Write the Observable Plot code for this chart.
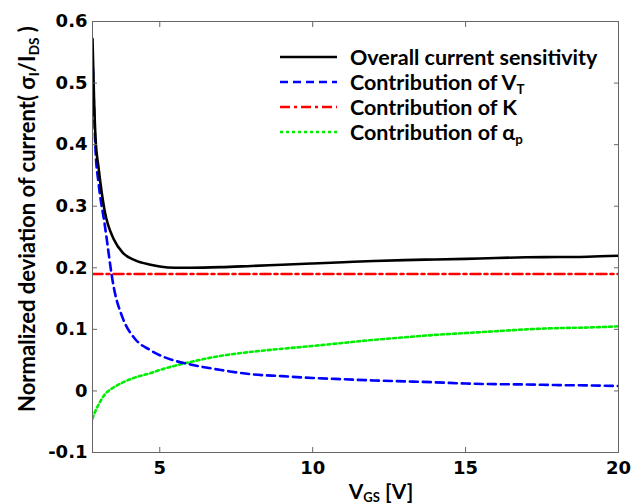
<!DOCTYPE html>
<html>
<head>
<meta charset="utf-8">
<script src="https://cdn.jsdelivr.net/npm/d3@7"></script>
<script src="https://cdn.jsdelivr.net/npm/@observablehq/plot@0.6"></script>
<style>
  html, body { margin: 0; padding: 0; background: #fff; }
  #wrap { position: relative; width: 632px; height: 504px; overflow: hidden; }
  .lbl { position: absolute; font-family: Lato, "Open Sans", sans-serif; font-weight: bold; color: #000; white-space: nowrap; line-height: 1; }
  .lbl sub { font-size: 0.62em; vertical-align: -0.3em; line-height: 0; }
  #legend { position: absolute; left: 280px; top: 44px; font-family: Lato, "Open Sans", sans-serif; font-weight: bold; font-size: 21.5px; }
  #legend .row { display: flex; align-items: center; height: 25px; white-space: nowrap; }
  #legend svg { width: 57px; height: 10px; margin-right: 13px; flex: none; }
  #legend sub { font-size: 0.62em; vertical-align: -0.3em; line-height: 0; }
</style>
</head>
<body>
<div id="wrap">
  <div id="chart"></div>
  <div class="lbl" id="ylabel" style="left:27px; top:219px; font-size:22px; transform:translate(-50%,-50%) rotate(-90deg);">Normalized deviation of current( σ<sub>I</sub>/I<sub>DS</sub> )</div>
  <div class="lbl" id="xlabel" style="left:381px; top:490px; font-size:21px; transform:translate(-50%,-50%);">V<sub>GS</sub> [V]</div>
  <div id="legend"></div>
</div>
<script>
// Gate-source voltage (V)
const vgs = [2.8, 2.85, 2.9, 3.0, 3.2, 3.5, 3.8, 4.2, 4.7, 5, 5.5, 6, 7, 8, 9, 10, 11, 12, 13, 14, 15, 16, 17, 18, 19, 20];
// Overall current sensitivity
const overall = [0.572, 0.475, 0.41, 0.362, 0.292, 0.246, 0.224, 0.212, 0.205, 0.202, 0.2, 0.2, 0.201, 0.203, 0.205, 0.207, 0.209, 0.211, 0.2125, 0.2135, 0.2145, 0.216, 0.217, 0.2175, 0.218, 0.2195];
// Contribution of V_T
const contribVT = [0.545, 0.46, 0.39, 0.337, 0.27, 0.167, 0.117, 0.084, 0.066, 0.058, 0.049, 0.043, 0.034, 0.027, 0.024, 0.021, 0.019, 0.017, 0.0155, 0.014, 0.012, 0.011, 0.0105, 0.0095, 0.009, 0.008];
// Contribution of K
const contribK = [0.19, 0.19, 0.19, 0.19, 0.19, 0.19, 0.19, 0.19, 0.19, 0.19, 0.19, 0.19, 0.19, 0.19, 0.19, 0.19, 0.19, 0.19, 0.19, 0.19, 0.19, 0.19, 0.19, 0.19, 0.19, 0.19];
// Contribution of alpha_p
const contribAlpha = [-0.045, -0.038, -0.032, -0.022, -0.006, 0.006, 0.014, 0.022, 0.029, 0.034, 0.041, 0.047, 0.057, 0.0635, 0.0685, 0.073, 0.078, 0.083, 0.087, 0.091, 0.094, 0.097, 0.1, 0.102, 0.103, 0.105];

const xTicks = [5, 10, 15, 20];
const yTicks = [-0.1, 0, 0.1, 0.2, 0.3, 0.4, 0.5, 0.6];

const series = [
  {name: "Overall current sensitivity", html: "Overall current sensitivity", values: overall, color: "#000000", dash: null},
  {name: "Contribution of VT", html: "Contribution of V<sub>T</sub>", values: contribVT, color: "#0000ff", dash: "8,5"},
  {name: "Contribution of K", html: "Contribution of K", values: contribK, color: "#ff0000", dash: "10,4,3,4"},
  {name: "Contribution of alpha_p", html: "Contribution of α<sub>p</sub>", values: contribAlpha, color: "#00ee00", dash: "3,3"}
];

const tickFont = {fontFamily: "DejaVu Sans", fontWeight: "bold", fontSize: 18};
const axisColor = "#666";

const lineMarks = series.slice().reverse().map(s =>
  Plot.line(vgs.map((x, i) => ({x, y: s.values[i]})), {
    x: "x", y: "y", stroke: s.color, strokeWidth: 2.6,
    strokeDasharray: s.dash, curve: "monotone-x", clip: true
  })
);

const chart = Plot.plot({
  width: 632,
  height: 504,
  marginLeft: 92,
  marginRight: 14,
  marginTop: 21,
  marginBottom: 52,
  style: {background: "#fff", color: "#000", ...tickFont},
  x: {domain: [2.8, 20], ticks: xTicks},
  y: {domain: [-0.1, 0.6], ticks: yTicks},
  marks: [
    ...lineMarks,
    Plot.frame({stroke: axisColor, strokeWidth: 1}),
    Plot.axisX(xTicks, {anchor: "bottom", tickSize: -5, tickPadding: 14, stroke: axisColor, label: null, tickFormat: d => String(d), fill: "#000", ...tickFont}),
    Plot.axisX(xTicks, {anchor: "top", tickSize: -5, stroke: axisColor, label: null, tickFormat: () => ""}),
    Plot.axisY(yTicks, {anchor: "left", tickSize: -5, tickPadding: 10, stroke: axisColor, label: null, tickFormat: d => String(d), fill: "#000", ...tickFont}),
    Plot.axisY(yTicks, {anchor: "right", tickSize: -5, stroke: axisColor, label: null, tickFormat: () => ""})
  ]
});
document.getElementById("chart").appendChild(chart);

const legend = document.getElementById("legend");
for (const s of series) {
  const row = document.createElement("div");
  row.className = "row";
  row.innerHTML = `<svg viewBox="0 0 57 10"><line x1="0" y1="5" x2="57" y2="5" stroke="${s.color}" stroke-width="2.6" ${s.dash ? `stroke-dasharray="${s.dash}"` : ""}/></svg><span>${s.html}</span>`;
  legend.appendChild(row);
}
</script>
</body>
</html>
